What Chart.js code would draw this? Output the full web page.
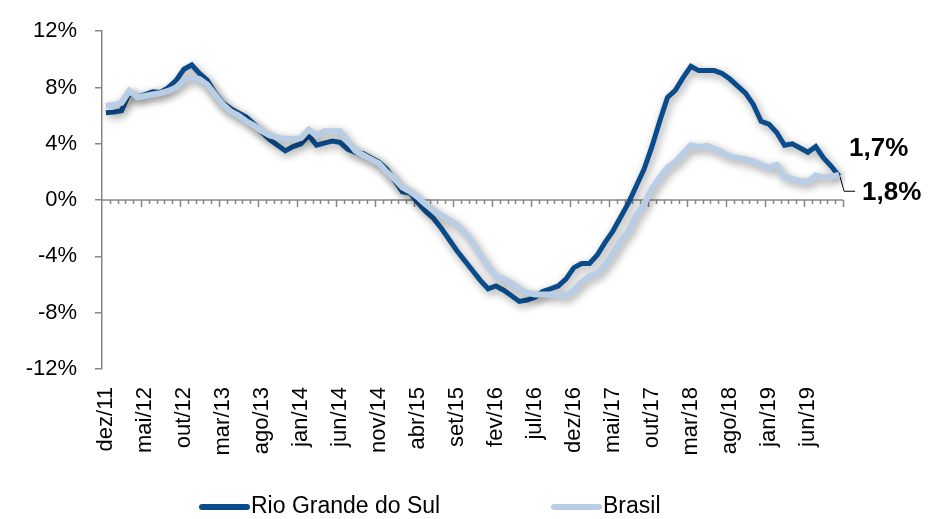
<!DOCTYPE html>
<html>
<head>
<meta charset="utf-8">
<script src="https://cdn.jsdelivr.net/npm/chart.js@4.4.1/dist/chart.umd.min.js"></script>
<style>
  html, body { margin: 0; padding: 0; background: #fff; }
</style>
</head>
<body>
<canvas id="grafico" width="928" height="519"></canvas>
<script>
// meses de dez/11 a out/19
const meses = ["jan", "fev", "mar", "abr", "mai", "jun", "jul", "ago", "set", "out", "nov", "dez"];
const categorias = [];
for (let i = 0; i < 95; i++) {
  categorias.push(meses[(11 + i) % 12] + "/" + (11 + Math.floor((11 + i) / 12)));
}

const rioGrandeDoSul = [
  6.2, 6.25, 6.35, 7.6, 7.3, 7.5, 7.7, 7.65, 8.0, 8.5,
  9.3, 9.6, 9.0, 8.5, 7.6, 6.9, 6.5, 6.2, 5.9, 5.4,
  4.8, 4.3, 3.9, 3.5, 3.8, 4.0, 4.6, 3.9, 4.05, 4.2,
  4.1, 3.6, 3.4, 3.3, 3.0, 2.7, 2.2, 1.4, 0.6, 0.5,
  -0.2, -0.8, -1.3, -2.0, -2.8, -3.6, -4.3, -5.0, -5.7, -6.3,
  -6.1, -6.4, -6.8, -7.2, -7.1, -6.9, -6.5, -6.3, -6.1, -5.6,
  -4.8, -4.5, -4.5, -3.9, -3.0, -2.2, -1.2, -0.2, 1.0, 2.2,
  3.8, 5.6, 7.3, 7.8, 8.7, 9.5, 9.2, 9.2, 9.2, 9.0,
  8.6, 8.1, 7.6, 6.8, 5.6, 5.4, 4.8, 3.9, 4.0, 3.7,
  3.4, 3.8, 3.0, 2.4, 1.7
];

const brasil = [
  6.7, 6.75, 6.9, 7.75, 7.3, 7.4, 7.5, 7.6, 7.75, 8.0,
  8.5, 8.7, 8.6, 8.2, 7.5, 6.8, 6.3, 6.0, 5.6, 5.3,
  4.9, 4.6, 4.45, 4.35, 4.35, 4.4, 5.0, 4.6, 4.9, 4.9,
  4.9, 4.2, 3.5, 3.2, 2.9, 2.6, 2.0, 1.5, 0.9, 0.6,
  0.2, -0.3, -0.7, -1.1, -1.4, -1.75, -2.3, -3.0, -3.9, -4.7,
  -5.4, -5.6, -5.9, -6.3, -6.6, -6.7, -6.7, -6.7, -6.75, -6.8,
  -6.4, -5.8, -5.4, -5.2, -4.6, -3.8, -2.9, -2.2, -1.1, -0.3,
  0.8, 1.6, 2.3, 2.7, 3.3, 3.9, 3.75, 3.85, 3.65, 3.4,
  3.1, 3.0, 2.9, 2.75, 2.5, 2.3, 2.5, 1.65, 1.5, 1.35,
  1.3, 1.75, 1.6, 1.65, 1.8
];

const rotulosFinais = ["1,7%", "1,8%"];

const corRS = "#0A4C8B";
const corBR = "#B9CDE5";
const cinza = "#868686";
const fonte = "'Liberation Sans', Arial, sans-serif";

Chart.defaults.font.family = fonte;
Chart.defaults.font.size = 22;
Chart.defaults.color = "#000";

// sombra das linhas
const sombra = {
  id: "sombra",
  beforeDatasetDraw(chart) {
    const ctx = chart.ctx;
    ctx.save();
    ctx.shadowColor = "rgba(0,0,0,0.4)";
    ctx.shadowBlur = 8;
    ctx.shadowOffsetX = 2;
    ctx.shadowOffsetY = 3;
  },
  afterDatasetDraw(chart) {
    chart.ctx.restore();
  }
};

// eixo horizontal no zero, com marcas mensais
const eixoZero = {
  id: "eixoZero",
  beforeDatasetsDraw(chart) {
    const { ctx, chartArea: a, scales: { x, y } } = chart;
    const y0 = y.getPixelForValue(0);
    const passo = (a.right - a.left) / categorias.length;
    ctx.save();
    ctx.strokeStyle = cinza;
    ctx.lineWidth = 1.5;
    ctx.beginPath();
    ctx.moveTo(a.left, y0);
    ctx.lineTo(a.right, y0);
    for (let i = 0; i < categorias.length; i++) {
      const px = Math.round(x.getPixelForValue(i) + passo / 2) + 0.5;
      const len = (i + 1) % 5 === 0 ? 7 : 4;
      ctx.moveTo(px, y0);
      ctx.lineTo(px, y0 + len);
    }
    ctx.stroke();
    ctx.restore();
  }
};

// rotulos finais e legenda
const extras = {
  id: "extras",
  afterDraw(chart) {
    const { ctx, scales: { x, y } } = chart;
    const n = categorias.length - 1;
    const xf = x.getPixelForValue(n);
    const yRS = y.getPixelForValue(rioGrandeDoSul[n]);
    const yBR = y.getPixelForValue(brasil[n]);
    ctx.save();
    ctx.font = "bold 26px " + fonte;
    ctx.fillStyle = "#000";
    ctx.textBaseline = "middle";
    ctx.textAlign = "left";
    ctx.fillText(rotulosFinais[0], xf + 10, yRS - 27);
    ctx.fillText(rotulosFinais[1], xf + 23, yBR + 18);
    ctx.strokeStyle = "#000";
    ctx.lineWidth = 1;
    ctx.beginPath();
    ctx.moveTo(xf + 1, yBR + 2);
    ctx.lineTo(xf + 5, yBR + 16.5);
    ctx.lineTo(xf + 16, yBR + 16.5);
    ctx.stroke();

    // legenda
    const itens = [
      { txt: chart.data.datasets[0].label, cor: corRS, x: 202 },
      { txt: chart.data.datasets[1].label, cor: corBR, x: 554 }
    ];
    const ly = 507;
    ctx.font = "23px " + fonte;
    ctx.lineCap = "round";
    itens.forEach(it => {
      ctx.strokeStyle = it.cor;
      ctx.lineWidth = 6;
      ctx.beginPath();
      ctx.moveTo(it.x, ly);
      ctx.lineTo(it.x + 45, ly);
      ctx.stroke();
      ctx.fillText(it.txt, it.x + 49, ly);
    });
    ctx.restore();
  }
};

new Chart(document.getElementById("grafico"), {
  type: "line",
  data: {
    labels: categorias,
    datasets: [
      {
        label: "Rio Grande do Sul",
        data: rioGrandeDoSul,
        borderColor: corRS,
        borderWidth: 5,
        pointRadius: 0,
        tension: 0,
        order: 1
      },
      {
        label: "Brasil",
        data: brasil,
        borderColor: corBR,
        borderWidth: 6,
        pointRadius: 0,
        tension: 0,
        order: 0
      }
    ]
  },
  options: {
    responsive: false,
    animation: false,
    layout: { padding: { top: 27, right: 85, left: 0, bottom: 0 } },
    plugins: {
      legend: { display: false },
      tooltip: { enabled: false }
    },
    scales: {
      x: {
        offset: true,
        grid: { display: false },
        border: { display: false },
        ticks: {
          autoSkip: false,
          maxRotation: 90,
          minRotation: 90,
          padding: 10,
          callback: (v, i) => (i % 5 === 0 ? categorias[i] : "")
        },
        afterFit: s => { s.height = 150; }
      },
      y: {
        min: -12,
        max: 12,
        grid: { drawOnChartArea: false, color: cinza, tickLength: 7, lineWidth: 1.5 },
        border: { color: cinza, width: 1.5 },
        ticks: { stepSize: 4, padding: 18, callback: v => v + "%" },
        afterFit: s => { s.width = 102; }
      }
    }
  },
  plugins: [sombra, eixoZero, extras]
});
</script>
</body>
</html>
